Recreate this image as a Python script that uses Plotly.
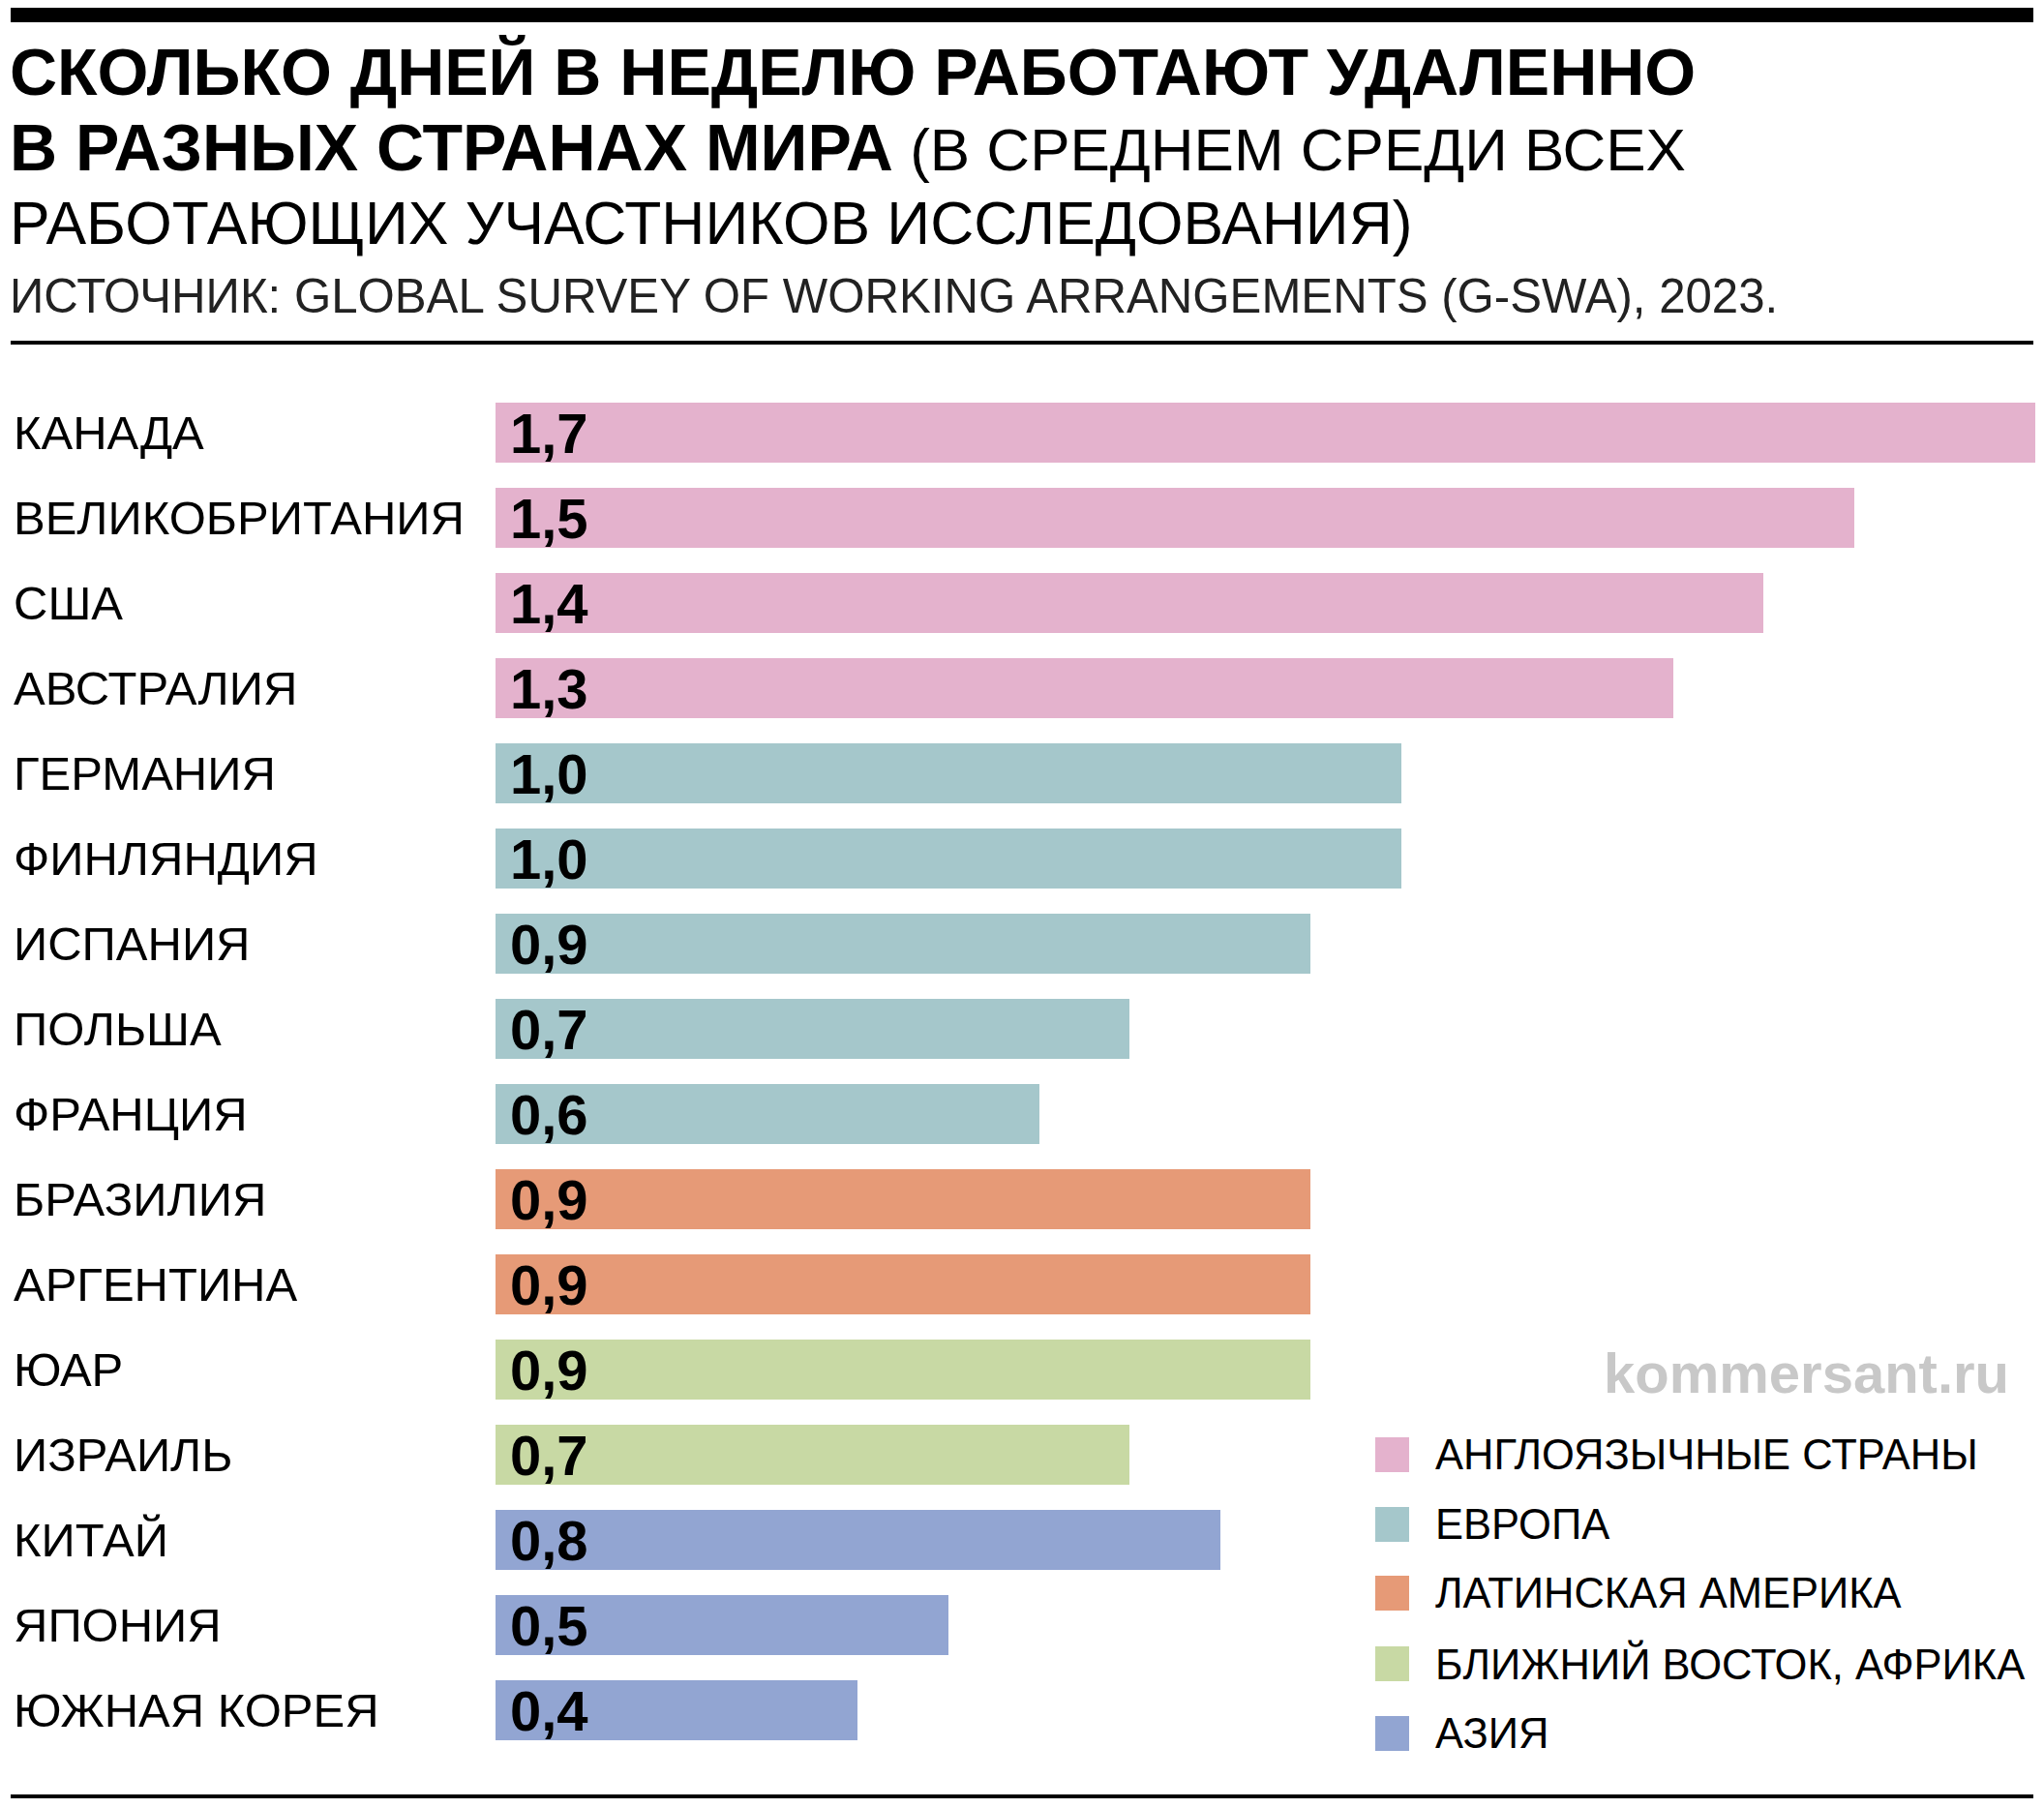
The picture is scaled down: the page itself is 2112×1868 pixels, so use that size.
import plotly.graph_objects as go

# ---- data ----
countries = ["КАНАДА", "ВЕЛИКОБРИТАНИЯ", "США", "АВСТРАЛИЯ", "ГЕРМАНИЯ", "ФИНЛЯНДИЯ",
             "ИСПАНИЯ", "ПОЛЬША", "ФРАНЦИЯ", "БРАЗИЛИЯ", "АРГЕНТИНА", "ЮАР",
             "ИЗРАИЛЬ", "КИТАЙ", "ЯПОНИЯ", "ЮЖНАЯ КОРЕЯ"]
days = [1.7, 1.5, 1.4, 1.3, 1.0, 1.0, 0.9, 0.7, 0.6, 0.9, 0.9, 0.9, 0.7, 0.8, 0.5, 0.4]
regions = ["АНГЛОЯЗЫЧНЫЕ СТРАНЫ"] * 4 + ["ЕВРОПА"] * 5 + ["ЛАТИНСКАЯ АМЕРИКА"] * 2 + \
          ["БЛИЖНИЙ ВОСТОК, АФРИКА"] * 2 + ["АЗИЯ"] * 3
region_names = ["АНГЛОЯЗЫЧНЫЕ СТРАНЫ", "ЕВРОПА", "ЛАТИНСКАЯ АМЕРИКА",
                "БЛИЖНИЙ ВОСТОК, АФРИКА", "АЗИЯ"]
region_colors = ["#e4b2cd", "#a5c7cb", "#e69a77", "#c8d9a4", "#92a5d2"]

# page has an 8px body margin: work in screen coordinates and offset
OFF = 8
W, H = 2112 - OFF, 1868 - OFF
color_of = dict(zip(region_names, region_colors))

def px(x):
    return (x - OFF) / W

def py(y):
    return 1 - (y - OFF) / H

fig = go.Figure()
for rn in region_names:
    xs = [d for d, r in zip(days, regions) if r == rn]
    ys = [c for c, r in zip(countries, regions) if r == rn]
    fig.add_trace(go.Bar(x=xs, y=ys, orientation="h", marker=dict(color=color_of[rn], line=dict(width=0)),
                         width=0.71, showlegend=False, hoverinfo="skip"))

REG = "Liberation Sans, Arial, sans-serif"
ann = []
# country labels and value labels
for c, d in zip(countries, days):
    ann.append(dict(text=c, xref="paper", x=px(12), yref="y", y=c, xanchor="left", yanchor="middle",
                    showarrow=False, font=dict(family=REG, size=49, color="#000")))
    ann.append(dict(text="<b>" + f"{d:.1f}".replace(".", ",") + "</b>", xref="x", x=0, xshift=13,
                    yref="y", y=c, xanchor="left", yanchor="middle",
                    showarrow=False, font=dict(family=REG, size=58, color="#000")))

# titles
ann.append(dict(text="<b>СКОЛЬКО ДНЕЙ В НЕДЕЛЮ РАБОТАЮТ УДАЛЕННО</b>", xref="paper", yref="paper",
                x=px(8), y=py(74), xanchor="left", yanchor="middle", showarrow=False,
                font=dict(family=REG, size=68, color="#000")))
ann.append(dict(text="<b>В РАЗНЫХ СТРАНАХ МИРА</b><span style='font-size:62px'> (В СРЕДНЕМ СРЕДИ ВСЕХ</span>",
                xref="paper", yref="paper",
                x=px(8), y=py(152), xanchor="left", yanchor="middle", showarrow=False,
                font=dict(family=REG, size=68, color="#000")))
ann.append(dict(text="РАБОТАЮЩИХ УЧАСТНИКОВ ИССЛЕДОВАНИЯ)", xref="paper", yref="paper",
                x=px(8), y=py(230), xanchor="left", yanchor="middle", showarrow=False,
                font=dict(family=REG, size=62.4, color="#000")))
ann.append(dict(text="ИСТОЧНИК: GLOBAL SURVEY OF WORKING ARRANGEMENTS (G-SWA), 2023.", xref="paper",
                yref="paper", x=px(8), y=py(306), xanchor="left", yanchor="middle", showarrow=False,
                font=dict(family=REG, size=49.2, color="#222")))
ann.append(dict(text="<b>kommersant.ru</b>", xref="paper", yref="paper", x=px(2078), y=py(1418),
                xanchor="right", yanchor="middle", showarrow=False,
                font=dict(family=REG, size=58, color="#c8c8c8")))

shapes = [
    dict(type="rect", xref="paper", yref="paper", x0=px(11), x1=px(2101), y0=py(23), y1=py(5),
         fillcolor="#000", line=dict(width=0)),
    dict(type="line", xref="paper", yref="paper", x0=px(11), x1=px(2101), y0=py(354), y1=py(354),
         line=dict(color="#000", width=4)),
    dict(type="line", xref="paper", yref="paper", x0=px(11), x1=px(2101), y0=py(1856), y1=py(1856),
         line=dict(color="#000", width=4)),
]

# legend
leg_y = [1503, 1575, 1646, 1719, 1791]
for rn, col, yy in zip(region_names, region_colors, leg_y):
    shapes.append(dict(type="rect", xref="paper", yref="paper", x0=px(1421), x1=px(1456),
                       y0=py(yy + 18), y1=py(yy - 18), fillcolor=col, line=dict(width=0)))
    ann.append(dict(text=rn, xref="paper", yref="paper", x=px(1481), y=py(yy), xanchor="left",
                    yanchor="middle", showarrow=False, font=dict(family=REG, size=43.5, color="#000")))

fig.update_layout(
    width=W, height=H, margin=dict(l=0, r=0, t=0, b=0),
    paper_bgcolor="white", plot_bgcolor="white",
    xaxis=dict(domain=[px(512), px(2103)], range=[0, 1.7], visible=False, fixedrange=True),
    yaxis=dict(domain=[py(1811), py(403)], autorange="reversed", visible=False, type="category",
               categoryorder="array", categoryarray=countries),
    barmode="overlay", bargap=0,
    annotations=ann, shapes=shapes,
)

fig.write_html("out.html")
